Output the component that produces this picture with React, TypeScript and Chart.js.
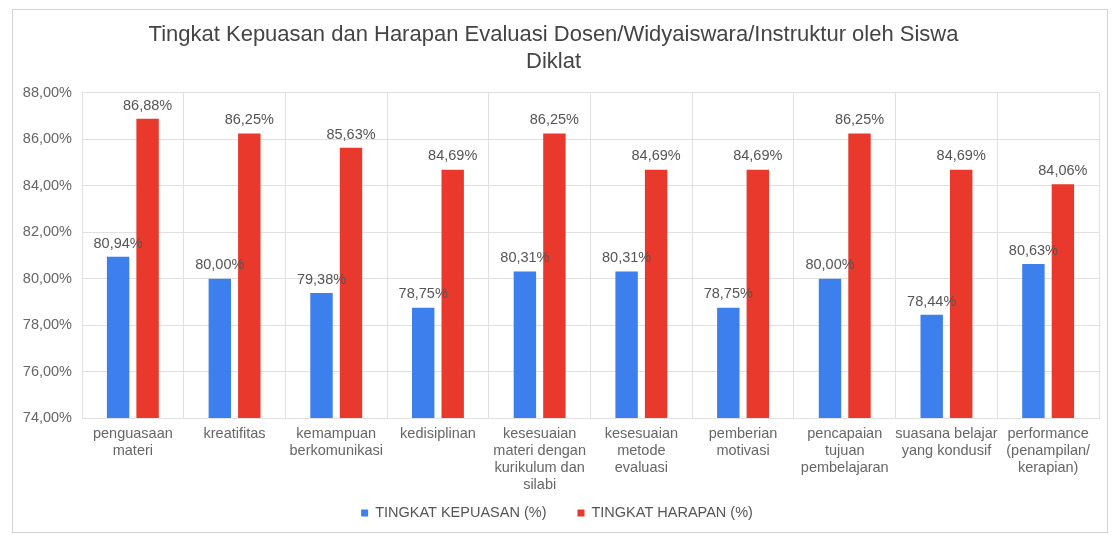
import React, { useEffect, useRef } from "react";
import { Chart, registerables } from "chart.js";

Chart.register(...registerables);

const categories: string[][] = [
  ["penguasaan", "materi"],
  ["kreatifitas"],
  ["kemampuan", "berkomunikasi"],
  ["kedisiplinan"],
  ["kesesuaian", "materi dengan", "kurikulum dan", "silabi"],
  ["kesesuaian", "metode", "evaluasi"],
  ["pemberian", "motivasi"],
  ["pencapaian", "tujuan", "pembelajaran"],
  ["suasana belajar", "yang kondusif"],
  ["performance", "(penampilan/", "kerapian)"],
];

const kepuasan = [80.94, 80.0, 79.38, 78.75, 80.31, 80.31, 78.75, 80.0, 78.44, 80.63];
const harapan = [86.88, 86.25, 85.63, 84.69, 86.25, 84.69, 84.69, 86.25, 84.69, 84.06];

const seriesNames = ["TINGKAT KEPUASAN (%)", "TINGKAT HARAPAN (%)"];
const seriesColors = ["#3d7fec", "#e8392c"];
const titleLines = [
  "Tingkat Kepuasan dan Harapan Evaluasi Dosen/Widyaiswara/Instruktur oleh Siswa",
  "Diklat",
];
const yMin = 74;
const yMax = 88;
const yStep = 2;

const FONT = "'Liberation Sans', Arial, sans-serif";
const fmt = (v: number) => v.toFixed(2).replace(".", ",") + "%";

const framePlugin = {
  id: "frame",
  beforeDraw(chart: any) {
    const { ctx, width, height } = chart;
    ctx.save();
    ctx.fillStyle = "#ffffff";
    ctx.fillRect(0, 0, width, height);
    ctx.strokeStyle = "#d4d4d4";
    ctx.lineWidth = 1;
    ctx.strokeRect(4.5, 1.5, 1095, 523);
    ctx.restore();
  },
};

const valueLabelPlugin = {
  id: "valueLabels",
  afterDatasetsDraw(chart: any) {
    const { ctx } = chart;
    ctx.save();
    ctx.font = `14.5px ${FONT}`;
    ctx.fillStyle = "#555555";
    ctx.textAlign = "center";
    ctx.textBaseline = "bottom";
    chart.data.datasets.forEach((ds: any, di: number) => {
      const meta = chart.getDatasetMeta(di);
      meta.data.forEach((el: any, i: number) => {
        ctx.fillText(fmt(ds.data[i]), el.x, el.y - 6);
      });
    });
    ctx.restore();
  },
};

const customLegendPlugin = {
  id: "customLegend",
  afterDraw(chart: any) {
    const { ctx } = chart;
    ctx.save();
    ctx.font = `14.5px ${FONT}`;
    ctx.textBaseline = "middle";
    ctx.textAlign = "left";
    const box = 7;
    const gapText = 7;
    const gapItem = 31;
    const widths = seriesNames.map((n) => ctx.measureText(n).width);
    const total =
      widths.reduce((a, w) => a + box + gapText + w, 0) + gapItem * (seriesNames.length - 1);
    let x = 549 - total / 2;
    const y = 505;
    seriesNames.forEach((name, i) => {
      ctx.fillStyle = seriesColors[i];
      ctx.fillRect(x, y - box / 2, box, box);
      ctx.fillStyle = "#555555";
      ctx.fillText(name, x + box + gapText, y);
      x += box + gapText + widths[i] + gapItem;
    });
    ctx.restore();
  },
};

export default function App() {
  const ref = useRef<HTMLCanvasElement | null>(null);

  useEffect(() => {
    if (!ref.current) return;
    const chart = new Chart(ref.current, {
      type: "bar",
      data: {
        labels: categories,
        datasets: [
          {
            label: seriesNames[0],
            data: kepuasan,
            backgroundColor: seriesColors[0],
            categoryPercentage: 0.58,
            barPercentage: 0.76,
          },
          {
            label: seriesNames[1],
            data: harapan,
            backgroundColor: seriesColors[1],
            categoryPercentage: 0.58,
            barPercentage: 0.76,
          },
        ],
      },
      options: {
        animation: false,
        responsive: true,
        maintainAspectRatio: false,
        font: { family: FONT },
        layout: { padding: { left: 0, right: 11, top: 0, bottom: 30 } },
        plugins: {
          legend: { display: false },
          tooltip: { enabled: false },
          title: {
            display: true,
            text: titleLines,
            color: "#444444",
            font: { family: FONT, size: 22, weight: "normal", lineHeight: 1.2 },
            padding: { top: 14, bottom: 18 },
          },
        },
        scales: {
          x: {
            grid: { color: "#e0e0e0", offset: true, drawTicks: false },
            border: { color: "#e0e0e0" },
            ticks: {
              color: "#666666",
              font: { family: FONT, size: 14.5, lineHeight: 1.17 },
              padding: 8,
              maxRotation: 0,
              autoSkip: false,
            },
            afterFit: (s: any) => {
              s.height = 87;
            },
          },
          y: {
            min: yMin,
            max: yMax,
            grid: { color: "#e0e0e0", drawTicks: false },
            border: { display: false },
            ticks: {
              stepSize: yStep,
              color: "#666666",
              font: { family: FONT, size: 14.5 },
              padding: 10,
              callback: (v: any) => fmt(Number(v)),
            },
            afterFit: (s: any) => {
              s.width = 74;
            },
          },
        },
      },
      plugins: [framePlugin, valueLabelPlugin, customLegendPlugin],
    } as any);
    return () => chart.destroy();
  }, []);

  return (
    <div style={{ width: 1102, height: 527, position: "relative" }}>
      <canvas ref={ref} />
    </div>
  );
}
